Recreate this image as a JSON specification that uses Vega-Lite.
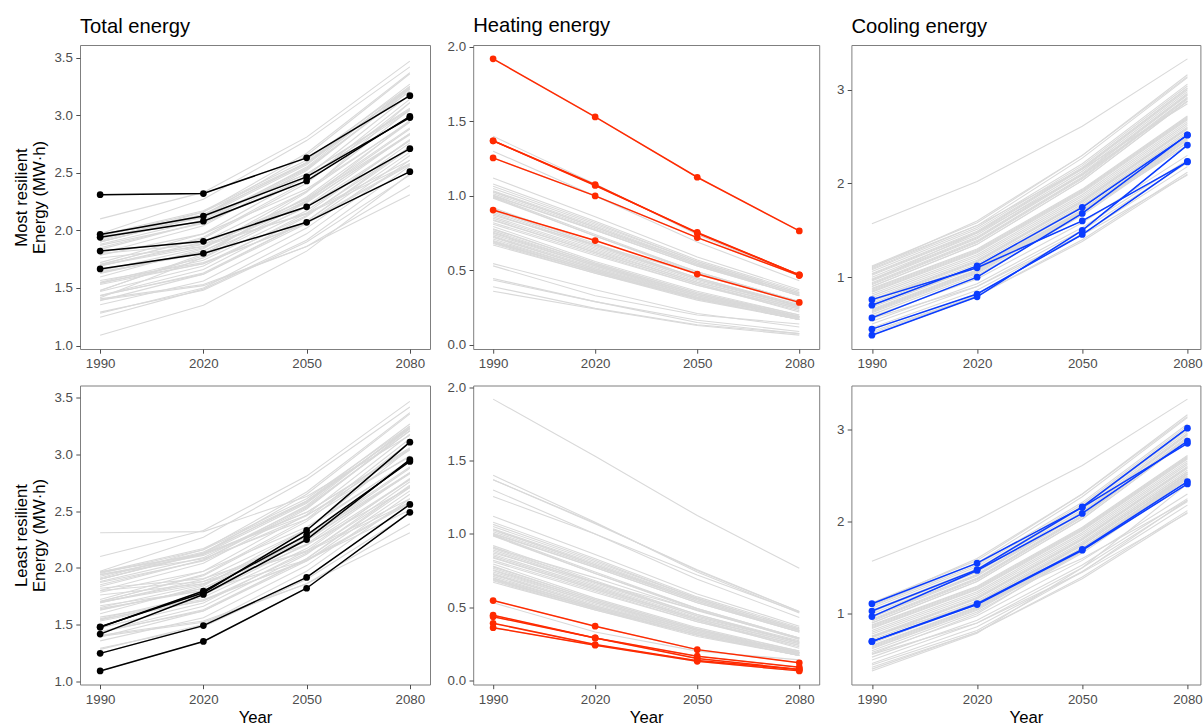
{
"$schema": "https://vega.github.io/schema/vega-lite/v6.json",
"padding": {"left": 13, "top": 15, "right": 0, "bottom": 0},
"config": {
  "font": "Liberation Sans",
  "view": {"stroke": "#7f7f7f", "strokeWidth": 1},
  "axis": {"grid": false, "domain": false, "tickColor": "#4d4d4d", "tickSize": 4.2, "tickWidth": 1, "labelColor": "#4d4d4d", "labelFontSize": 13.3, "labelPadding": 3.4, "titleFontSize": 16.7, "titleFontWeight": "normal", "titleColor": "#000000", "titleLineHeight": 18},
  "axisY": {"titlePadding": 5},
  "axisX": {"titlePadding": 4, "labelFlush": false},
  "title": {"fontSize": 20.2, "fontWeight": "normal", "anchor": "start", "frame": "group", "offset": 8, "baseline": "bottom", "color": "#000000"}
},
"datasets": {"d": [
{"id":"A","g":"most","year":1990,"total":2.31,"heat":1.92,"cool":0.38},
{"id":"A","g":"most","year":2020,"total":2.32,"heat":1.53,"cool":0.79},
{"id":"A","g":"most","year":2050,"total":2.63,"heat":1.125,"cool":1.50},
{"id":"A","g":"most","year":2080,"total":3.17,"heat":0.765,"cool":2.41},
{"id":"B","g":"most","year":1990,"total":1.94,"heat":1.37,"cool":0.565},
{"id":"B","g":"most","year":2020,"total":2.08,"heat":1.075,"cool":1.00},
{"id":"B","g":"most","year":2050,"total":2.43,"heat":0.75,"cool":1.68},
{"id":"B","g":"most","year":2080,"total":2.99,"heat":0.47,"cool":2.52},
{"id":"C","g":"most","year":1990,"total":1.965,"heat":1.255,"cool":0.70},
{"id":"C","g":"most","year":2020,"total":2.125,"heat":1.00,"cool":1.12},
{"id":"C","g":"most","year":2050,"total":2.465,"heat":0.72,"cool":1.745},
{"id":"C","g":"most","year":2080,"total":2.98,"heat":0.465,"cool":2.515},
{"id":"D","g":"most","year":1990,"total":1.665,"heat":0.905,"cool":0.76},
{"id":"D","g":"most","year":2020,"total":1.80,"heat":0.70,"cool":1.10},
{"id":"D","g":"most","year":2050,"total":2.07,"heat":0.475,"cool":1.60},
{"id":"D","g":"most","year":2080,"total":2.51,"heat":0.285,"cool":2.23},
{"id":"E","g":"most","year":1990,"total":1.82,"heat":1.37,"cool":0.445},
{"id":"E","g":"most","year":2020,"total":1.905,"heat":1.07,"cool":0.82},
{"id":"E","g":"most","year":2050,"total":2.205,"heat":0.755,"cool":1.455},
{"id":"E","g":"most","year":2080,"total":2.71,"heat":0.47,"cool":2.235},
{"id":"F","g":"least","year":1990,"total":1.09,"heat":0.39,"cool":0.70},
{"id":"F","g":"least","year":2020,"total":1.35,"heat":0.245,"cool":1.10},
{"id":"F","g":"least","year":2050,"total":1.82,"heat":0.135,"cool":1.69},
{"id":"F","g":"least","year":2080,"total":2.49,"heat":0.075,"cool":2.41},
{"id":"G","g":"least","year":1990,"total":1.245,"heat":0.545,"cool":0.70},
{"id":"G","g":"least","year":2020,"total":1.49,"heat":0.37,"cool":1.11},
{"id":"G","g":"least","year":2050,"total":1.915,"heat":0.21,"cool":1.70},
{"id":"G","g":"least","year":2080,"total":2.56,"heat":0.12,"cool":2.435},
{"id":"H","g":"least","year":1990,"total":1.415,"heat":0.435,"cool":0.97},
{"id":"H","g":"least","year":2020,"total":1.765,"heat":0.29,"cool":1.47},
{"id":"H","g":"least","year":2050,"total":2.25,"heat":0.15,"cool":2.09},
{"id":"H","g":"least","year":2080,"total":2.955,"heat":0.075,"cool":2.875},
{"id":"I","g":"least","year":1990,"total":1.48,"heat":0.445,"cool":1.03},
{"id":"I","g":"least","year":2020,"total":1.78,"heat":0.29,"cool":1.48},
{"id":"I","g":"least","year":2050,"total":2.33,"heat":0.165,"cool":2.16},
{"id":"I","g":"least","year":2080,"total":3.11,"heat":0.09,"cool":3.015},
{"id":"J","g":"least","year":1990,"total":1.475,"heat":0.36,"cool":1.11},
{"id":"J","g":"least","year":2020,"total":1.795,"heat":0.24,"cool":1.55},
{"id":"J","g":"least","year":2050,"total":2.29,"heat":0.13,"cool":2.155},
{"id":"J","g":"least","year":2080,"total":2.94,"heat":0.065,"cool":2.85},
{"id":"K","g":"other","year":1990,"total":2.10,"heat":0.53,"cool":1.57},
{"id":"K","g":"other","year":2020,"total":2.33,"heat":0.33,"cool":2.02},
{"id":"K","g":"other","year":2050,"total":2.81,"heat":0.20,"cool":2.61},
{"id":"K","g":"other","year":2080,"total":3.47,"heat":0.14,"cool":3.33},
{"id":"L","g":"other","year":1990,"total":1.97,"heat":0.87,"cool":1.10},
{"id":"L","g":"other","year":2020,"total":2.27,"heat":0.67,"cool":1.60},
{"id":"L","g":"other","year":2050,"total":2.78,"heat":0.48,"cool":2.30},
{"id":"L","g":"other","year":2080,"total":3.42,"heat":0.28,"cool":3.14},
{"id":"o1","g":"other","year":1990,"total":1.80,"heat":1.40,"cool":0.40},
{"id":"o1","g":"other","year":2020,"total":1.88,"heat":1.08,"cool":0.80},
{"id":"o1","g":"other","year":2050,"total":2.14,"heat":0.74,"cool":1.40},
{"id":"o1","g":"other","year":2080,"total":2.58,"heat":0.46,"cool":2.12},
{"id":"o2","g":"other","year":1990,"total":1.76,"heat":1.30,"cool":0.46},
{"id":"o2","g":"other","year":2020,"total":1.86,"heat":1.00,"cool":0.86},
{"id":"o2","g":"other","year":2050,"total":2.15,"heat":0.69,"cool":1.46},
{"id":"o2","g":"other","year":2080,"total":2.61,"heat":0.43,"cool":2.18},
{"id":"o3","g":"other","year":1990,"total":1.96,"heat":1.12,"cool":0.84},
{"id":"o3","g":"other","year":2020,"total":2.12,"heat":0.86,"cool":1.26},
{"id":"o3","g":"other","year":2050,"total":2.49,"heat":0.59,"cool":1.90},
{"id":"o3","g":"other","year":2080,"total":3.05,"heat":0.37,"cool":2.68},
{"id":"o4","g":"other","year":1990,"total":1.94,"heat":1.08,"cool":0.86},
{"id":"o4","g":"other","year":2020,"total":2.11,"heat":0.83,"cool":1.28},
{"id":"o4","g":"other","year":2050,"total":2.49,"heat":0.57,"cool":1.92},
{"id":"o4","g":"other","year":2080,"total":3.06,"heat":0.36,"cool":2.70},
{"id":"o5","g":"other","year":1990,"total":1.565,"heat":1.065,"cool":0.50},
{"id":"o5","g":"other","year":2020,"total":1.72,"heat":0.82,"cool":0.90},
{"id":"o5","g":"other","year":2050,"total":2.06,"heat":0.56,"cool":1.50},
{"id":"o5","g":"other","year":2080,"total":2.57,"heat":0.35,"cool":2.22},
{"id":"o6","g":"other","year":1990,"total":1.95,"heat":1.05,"cool":0.90},
{"id":"o6","g":"other","year":2020,"total":2.16,"heat":0.81,"cool":1.35},
{"id":"o6","g":"other","year":2050,"total":2.59,"heat":0.56,"cool":2.03},
{"id":"o6","g":"other","year":2080,"total":3.23,"heat":0.35,"cool":2.88},
{"id":"o7","g":"other","year":1990,"total":1.695,"heat":1.035,"cool":0.66},
{"id":"o7","g":"other","year":2020,"total":1.88,"heat":0.80,"cool":1.08},
{"id":"o7","g":"other","year":2050,"total":2.27,"heat":0.55,"cool":1.72},
{"id":"o7","g":"other","year":2080,"total":2.84,"heat":0.34,"cool":2.50},
{"id":"o8","g":"other","year":1990,"total":1.785,"heat":1.025,"cool":0.76},
{"id":"o8","g":"other","year":2020,"total":1.97,"heat":0.79,"cool":1.18},
{"id":"o8","g":"other","year":2050,"total":2.36,"heat":0.54,"cool":1.82},
{"id":"o8","g":"other","year":2080,"total":2.94,"heat":0.34,"cool":2.60},
{"id":"o9","g":"other","year":1990,"total":1.545,"heat":1.015,"cool":0.53},
{"id":"o9","g":"other","year":2020,"total":1.71,"heat":0.78,"cool":0.93},
{"id":"o9","g":"other","year":2050,"total":2.07,"heat":0.54,"cool":1.53},
{"id":"o9","g":"other","year":2080,"total":2.58,"heat":0.33,"cool":2.25},
{"id":"o10","g":"other","year":1990,"total":1.925,"heat":1.005,"cool":0.92},
{"id":"o10","g":"other","year":2020,"total":2.14,"heat":0.77,"cool":1.37},
{"id":"o10","g":"other","year":2050,"total":2.58,"heat":0.53,"cool":2.05},
{"id":"o10","g":"other","year":2080,"total":3.23,"heat":0.33,"cool":2.90},
{"id":"o11","g":"other","year":1990,"total":1.695,"heat":0.995,"cool":0.70},
{"id":"o11","g":"other","year":2020,"total":1.86,"heat":0.74,"cool":1.12},
{"id":"o11","g":"other","year":2050,"total":2.25,"heat":0.49,"cool":1.76},
{"id":"o11","g":"other","year":2080,"total":2.83,"heat":0.29,"cool":2.54},
{"id":"o12","g":"other","year":1990,"total":1.405,"heat":0.985,"cool":0.42},
{"id":"o12","g":"other","year":2020,"total":1.53,"heat":0.73,"cool":0.80},
{"id":"o12","g":"other","year":2050,"total":1.86,"heat":0.48,"cool":1.38},
{"id":"o12","g":"other","year":2080,"total":2.39,"heat":0.29,"cool":2.10},
{"id":"o13","g":"other","year":1990,"total":1.88,"heat":0.92,"cool":0.96},
{"id":"o13","g":"other","year":2020,"total":2.09,"heat":0.68,"cool":1.41},
{"id":"o13","g":"other","year":2050,"total":2.54,"heat":0.45,"cool":2.09},
{"id":"o13","g":"other","year":2080,"total":3.21,"heat":0.27,"cool":2.94},
{"id":"o14","g":"other","year":1990,"total":1.53,"heat":0.91,"cool":0.62},
{"id":"o14","g":"other","year":2020,"total":1.71,"heat":0.67,"cool":1.04},
{"id":"o14","g":"other","year":2050,"total":2.13,"heat":0.45,"cool":1.68},
{"id":"o14","g":"other","year":2080,"total":2.72,"heat":0.26,"cool":2.46},
{"id":"o15","g":"other","year":1990,"total":1.90,"heat":0.90,"cool":1.00},
{"id":"o15","g":"other","year":2020,"total":2.12,"heat":0.67,"cool":1.45},
{"id":"o15","g":"other","year":2050,"total":2.57,"heat":0.44,"cool":2.13},
{"id":"o15","g":"other","year":2080,"total":3.24,"heat":0.26,"cool":2.98},
{"id":"o16","g":"other","year":1990,"total":1.63,"heat":0.89,"cool":0.74},
{"id":"o16","g":"other","year":2020,"total":1.82,"heat":0.66,"cool":1.16},
{"id":"o16","g":"other","year":2050,"total":2.24,"heat":0.44,"cool":1.80},
{"id":"o16","g":"other","year":2080,"total":2.84,"heat":0.26,"cool":2.58},
{"id":"o17","g":"other","year":1990,"total":1.90,"heat":0.86,"cool":1.04},
{"id":"o17","g":"other","year":2020,"total":2.13,"heat":0.64,"cool":1.49},
{"id":"o17","g":"other","year":2050,"total":2.59,"heat":0.42,"cool":2.17},
{"id":"o17","g":"other","year":2080,"total":3.27,"heat":0.25,"cool":3.02},
{"id":"o18","g":"other","year":1990,"total":1.65,"heat":0.85,"cool":0.80},
{"id":"o18","g":"other","year":2020,"total":1.85,"heat":0.63,"cool":1.22},
{"id":"o18","g":"other","year":2050,"total":2.28,"heat":0.42,"cool":1.86},
{"id":"o18","g":"other","year":2080,"total":2.89,"heat":0.25,"cool":2.64},
{"id":"o19","g":"other","year":1990,"total":1.395,"heat":0.835,"cool":0.56},
{"id":"o19","g":"other","year":2020,"total":1.52,"heat":0.62,"cool":0.90},
{"id":"o19","g":"other","year":2050,"total":1.86,"heat":0.41,"cool":1.45},
{"id":"o19","g":"other","year":2080,"total":2.31,"heat":0.22,"cool":2.09},
{"id":"o20","g":"other","year":1990,"total":1.91,"heat":0.82,"cool":1.09},
{"id":"o20","g":"other","year":2020,"total":2.16,"heat":0.61,"cool":1.55},
{"id":"o20","g":"other","year":2050,"total":2.67,"heat":0.40,"cool":2.27},
{"id":"o20","g":"other","year":2080,"total":3.37,"heat":0.24,"cool":3.13},
{"id":"o21","g":"other","year":1990,"total":1.69,"heat":0.81,"cool":0.88},
{"id":"o21","g":"other","year":2020,"total":1.90,"heat":0.60,"cool":1.30},
{"id":"o21","g":"other","year":2050,"total":2.34,"heat":0.40,"cool":1.94},
{"id":"o21","g":"other","year":2080,"total":2.95,"heat":0.23,"cool":2.72},
{"id":"o22","g":"other","year":1990,"total":1.435,"heat":0.795,"cool":0.64},
{"id":"o22","g":"other","year":2020,"total":1.62,"heat":0.56,"cool":1.06},
{"id":"o22","g":"other","year":2050,"total":2.06,"heat":0.36,"cool":1.70},
{"id":"o22","g":"other","year":2080,"total":2.68,"heat":0.20,"cool":2.48},
{"id":"o23","g":"other","year":1990,"total":1.90,"heat":0.78,"cool":1.12},
{"id":"o23","g":"other","year":2020,"total":2.13,"heat":0.55,"cool":1.58},
{"id":"o23","g":"other","year":2050,"total":2.65,"heat":0.35,"cool":2.30},
{"id":"o23","g":"other","year":2080,"total":3.36,"heat":0.20,"cool":3.16},
{"id":"o24","g":"other","year":1990,"total":1.705,"heat":0.765,"cool":0.94},
{"id":"o24","g":"other","year":2020,"total":1.93,"heat":0.54,"cool":1.39},
{"id":"o24","g":"other","year":2050,"total":2.41,"heat":0.34,"cool":2.07},
{"id":"o24","g":"other","year":2080,"total":3.11,"heat":0.19,"cool":2.92},
{"id":"o25","g":"other","year":1990,"total":1.43,"heat":0.75,"cool":0.68},
{"id":"o25","g":"other","year":2020,"total":1.63,"heat":0.53,"cool":1.10},
{"id":"o25","g":"other","year":2050,"total":2.08,"heat":0.34,"cool":1.74},
{"id":"o25","g":"other","year":2080,"total":2.71,"heat":0.19,"cool":2.52},
{"id":"o26","g":"other","year":1990,"total":1.80,"heat":0.74,"cool":1.06},
{"id":"o26","g":"other","year":2020,"total":2.04,"heat":0.53,"cool":1.51},
{"id":"o26","g":"other","year":2050,"total":2.52,"heat":0.33,"cool":2.19},
{"id":"o26","g":"other","year":2080,"total":3.23,"heat":0.19,"cool":3.04},
{"id":"o27","g":"other","year":1990,"total":1.55,"heat":0.73,"cool":0.82},
{"id":"o27","g":"other","year":2020,"total":1.76,"heat":0.52,"cool":1.24},
{"id":"o27","g":"other","year":2050,"total":2.21,"heat":0.33,"cool":1.88},
{"id":"o27","g":"other","year":2080,"total":2.84,"heat":0.18,"cool":2.66},
{"id":"o28","g":"other","year":1990,"total":1.70,"heat":0.72,"cool":0.98},
{"id":"o28","g":"other","year":2020,"total":1.94,"heat":0.51,"cool":1.43},
{"id":"o28","g":"other","year":2050,"total":2.43,"heat":0.32,"cool":2.11},
{"id":"o28","g":"other","year":2080,"total":3.14,"heat":0.18,"cool":2.96},
{"id":"o29","g":"other","year":1990,"total":1.29,"heat":0.71,"cool":0.58},
{"id":"o29","g":"other","year":2020,"total":1.48,"heat":0.50,"cool":0.98},
{"id":"o29","g":"other","year":2050,"total":1.90,"heat":0.32,"cool":1.58},
{"id":"o29","g":"other","year":2080,"total":2.48,"heat":0.18,"cool":2.30},
{"id":"o30","g":"other","year":1990,"total":1.72,"heat":0.70,"cool":1.02},
{"id":"o30","g":"other","year":2020,"total":1.97,"heat":0.50,"cool":1.47},
{"id":"o30","g":"other","year":2050,"total":2.47,"heat":0.32,"cool":2.15},
{"id":"o30","g":"other","year":2080,"total":3.18,"heat":0.18,"cool":3.00},
{"id":"o31","g":"other","year":1990,"total":1.47,"heat":0.69,"cool":0.78},
{"id":"o31","g":"other","year":2020,"total":1.69,"heat":0.49,"cool":1.20},
{"id":"o31","g":"other","year":2050,"total":2.15,"heat":0.31,"cool":1.84},
{"id":"o31","g":"other","year":2080,"total":2.79,"heat":0.17,"cool":2.62},
{"id":"o32","g":"other","year":1990,"total":1.28,"heat":0.68,"cool":0.60},
{"id":"o32","g":"other","year":2020,"total":1.50,"heat":0.48,"cool":1.02},
{"id":"o32","g":"other","year":2050,"total":1.97,"heat":0.31,"cool":1.66},
{"id":"o32","g":"other","year":2080,"total":2.61,"heat":0.17,"cool":2.44},
{"id":"o33","g":"other","year":1990,"total":1.39,"heat":0.67,"cool":0.72},
{"id":"o33","g":"other","year":2020,"total":1.62,"heat":0.48,"cool":1.14},
{"id":"o33","g":"other","year":2050,"total":2.08,"heat":0.30,"cool":1.78},
{"id":"o33","g":"other","year":2080,"total":2.73,"heat":0.17,"cool":2.56},
{"id":"o34","g":"other","year":1990,"total":1.87,"heat":1.00,"cool":0.87},
{"id":"o34","g":"other","year":2020,"total":2.06,"heat":0.77,"cool":1.29},
{"id":"o34","g":"other","year":2050,"total":2.46,"heat":0.53,"cool":1.93},
{"id":"o34","g":"other","year":2080,"total":3.04,"heat":0.33,"cool":2.71},
{"id":"o35","g":"other","year":1990,"total":1.64,"heat":0.99,"cool":0.65},
{"id":"o35","g":"other","year":2020,"total":1.80,"heat":0.73,"cool":1.07},
{"id":"o35","g":"other","year":2050,"total":2.20,"heat":0.49,"cool":1.71},
{"id":"o35","g":"other","year":2080,"total":2.78,"heat":0.29,"cool":2.49},
{"id":"o36","g":"other","year":1990,"total":1.85,"heat":0.88,"cool":0.97},
{"id":"o36","g":"other","year":2020,"total":2.07,"heat":0.65,"cool":1.42},
{"id":"o36","g":"other","year":2050,"total":2.53,"heat":0.43,"cool":2.10},
{"id":"o36","g":"other","year":2080,"total":3.21,"heat":0.26,"cool":2.95},
{"id":"o37","g":"other","year":1990,"total":1.54,"heat":0.84,"cool":0.70},
{"id":"o37","g":"other","year":2020,"total":1.74,"heat":0.62,"cool":1.12},
{"id":"o37","g":"other","year":2050,"total":2.17,"heat":0.41,"cool":1.76},
{"id":"o37","g":"other","year":2080,"total":2.78,"heat":0.24,"cool":2.54},
{"id":"o38","g":"other","year":1990,"total":1.625,"heat":0.775,"cool":0.85},
{"id":"o38","g":"other","year":2020,"total":1.82,"heat":0.55,"cool":1.27},
{"id":"o38","g":"other","year":2050,"total":2.26,"heat":0.35,"cool":1.91},
{"id":"o38","g":"other","year":2080,"total":2.88,"heat":0.19,"cool":2.69},
{"id":"o39","g":"other","year":1990,"total":1.835,"heat":0.755,"cool":1.08},
{"id":"o39","g":"other","year":2020,"total":2.07,"heat":0.54,"cool":1.53},
{"id":"o39","g":"other","year":2050,"total":2.55,"heat":0.34,"cool":2.21},
{"id":"o39","g":"other","year":2080,"total":3.25,"heat":0.19,"cool":3.06},
{"id":"o40","g":"other","year":1990,"total":1.355,"heat":0.725,"cool":0.63},
{"id":"o40","g":"other","year":2020,"total":1.56,"heat":0.51,"cool":1.05},
{"id":"o40","g":"other","year":2050,"total":2.02,"heat":0.33,"cool":1.69},
{"id":"o40","g":"other","year":2080,"total":2.65,"heat":0.18,"cool":2.47},
{"id":"o41","g":"other","year":1990,"total":1.595,"heat":0.695,"cool":0.90},
{"id":"o41","g":"other","year":2020,"total":1.84,"heat":0.49,"cool":1.35},
{"id":"o41","g":"other","year":2050,"total":2.34,"heat":0.31,"cool":2.03},
{"id":"o41","g":"other","year":2080,"total":3.05,"heat":0.17,"cool":2.88},
{"id":"o42","g":"other","year":1990,"total":1.435,"heat":0.685,"cool":0.75},
{"id":"o42","g":"other","year":2020,"total":1.66,"heat":0.49,"cool":1.17},
{"id":"o42","g":"other","year":2050,"total":2.12,"heat":0.31,"cool":1.81},
{"id":"o42","g":"other","year":2080,"total":2.76,"heat":0.17,"cool":2.59},
{"id":"o43","g":"other","year":1990,"total":1.96,"heat":1.03,"cool":0.93},
{"id":"o43","g":"other","year":2020,"total":2.17,"heat":0.79,"cool":1.38},
{"id":"o43","g":"other","year":2050,"total":2.61,"heat":0.55,"cool":2.06},
{"id":"o43","g":"other","year":2080,"total":3.25,"heat":0.34,"cool":2.91}
]},
"spacing": 8.5,
"vconcat": [
 {"hconcat": [
  {"width": 350, "height": 304, "title": {"text": "Total energy"}, "data": {"name": "d"},
   "encoding": {
    "x": {"field": "year", "type": "quantitative", "scale": {"domain": [1984.15, 2085.85], "nice": false, "zero": false}, "axis": {"values": [1990, 2020, 2050, 2080], "format": "d", "title": null}},
    "y": {"field": "total", "type": "quantitative", "scale": {"domain": [0.97, 3.61], "nice": false, "zero": false}, "axis": {"values": [1, 1.5, 2, 2.5, 3, 3.5], "format": ".1f", "title": ["Most resilient", "Energy (MW·h)"]}}},
   "layer": [
    {"mark": {"type": "line", "color": "#d9d9d9", "strokeWidth": 1.1}, "encoding": {"detail": {"field": "id", "type": "nominal"}}},
    {"transform": [{"filter": "datum.g === 'most'"}], "mark": {"type": "line", "color": "#000000", "strokeWidth": 1.5}, "encoding": {"detail": {"field": "id", "type": "nominal"}}},
    {"transform": [{"filter": "datum.g === 'most'"}], "mark": {"type": "circle", "color": "#000000", "size": 45, "opacity": 1}}
   ]},
  {"width": 346, "height": 304, "title": {"text": "Heating energy", "offset": 3.3}, "data": {"name": "d"},
   "encoding": {
    "x": {"field": "year", "type": "quantitative", "scale": {"domain": [1984.15, 2085.85], "nice": false, "zero": false}, "axis": {"values": [1990, 2020, 2050, 2080], "format": "d", "title": null}},
    "y": {"field": "heat", "type": "quantitative", "scale": {"domain": [-0.028, 2.013], "nice": false, "zero": false}, "axis": {"values": [0, 0.5, 1, 1.5, 2], "format": ".1f", "title": null}}},
   "layer": [
    {"mark": {"type": "line", "color": "#d9d9d9", "strokeWidth": 1.1}, "encoding": {"detail": {"field": "id", "type": "nominal"}}},
    {"transform": [{"filter": "datum.g === 'most'"}], "mark": {"type": "line", "color": "#ff2a00", "strokeWidth": 1.5}, "encoding": {"detail": {"field": "id", "type": "nominal"}}},
    {"transform": [{"filter": "datum.g === 'most'"}], "mark": {"type": "circle", "color": "#ff2a00", "size": 45, "opacity": 1}}
   ]},
  {"width": 349, "height": 304, "title": {"text": "Cooling energy"}, "data": {"name": "d"},
   "encoding": {
    "x": {"field": "year", "type": "quantitative", "scale": {"domain": [1984.15, 2083.7], "nice": false, "zero": false}, "axis": {"values": [1990, 2020, 2050, 2080], "format": "d", "title": null}},
    "y": {"field": "cool", "type": "quantitative", "scale": {"domain": [0.233, 3.478], "nice": false, "zero": false}, "axis": {"values": [1, 2, 3], "format": "d", "title": null}}},
   "layer": [
    {"mark": {"type": "line", "color": "#d9d9d9", "strokeWidth": 1.1}, "encoding": {"detail": {"field": "id", "type": "nominal"}}},
    {"transform": [{"filter": "datum.g === 'most'"}], "mark": {"type": "line", "color": "#0a3cff", "strokeWidth": 1.5}, "encoding": {"detail": {"field": "id", "type": "nominal"}}},
    {"transform": [{"filter": "datum.g === 'most'"}], "mark": {"type": "circle", "color": "#0a3cff", "size": 45, "opacity": 1}}
   ]}
 ], "spacing": 15.2},
 {"hconcat": [
  {"width": 350, "height": 299, "data": {"name": "d"},
   "encoding": {
    "x": {"field": "year", "type": "quantitative", "scale": {"domain": [1984.15, 2085.85], "nice": false, "zero": false}, "axis": {"values": [1990, 2020, 2050, 2080], "format": "d", "title": "Year"}},
    "y": {"field": "total", "type": "quantitative", "scale": {"domain": [0.97, 3.61], "nice": false, "zero": false}, "axis": {"values": [1, 1.5, 2, 2.5, 3, 3.5], "format": ".1f", "title": ["Least resilient", "Energy (MW·h)"]}}},
   "layer": [
    {"mark": {"type": "line", "color": "#d9d9d9", "strokeWidth": 1.1}, "encoding": {"detail": {"field": "id", "type": "nominal"}}},
    {"transform": [{"filter": "datum.g === 'least'"}], "mark": {"type": "line", "color": "#000000", "strokeWidth": 1.5}, "encoding": {"detail": {"field": "id", "type": "nominal"}}},
    {"transform": [{"filter": "datum.g === 'least'"}], "mark": {"type": "circle", "color": "#000000", "size": 45, "opacity": 1}}
   ]},
  {"width": 346, "height": 299, "data": {"name": "d"},
   "encoding": {
    "x": {"field": "year", "type": "quantitative", "scale": {"domain": [1984.15, 2085.85], "nice": false, "zero": false}, "axis": {"values": [1990, 2020, 2050, 2080], "format": "d", "title": "Year"}},
    "y": {"field": "heat", "type": "quantitative", "scale": {"domain": [-0.028, 2.013], "nice": false, "zero": false}, "axis": {"values": [0, 0.5, 1, 1.5, 2], "format": ".1f", "title": null}}},
   "layer": [
    {"mark": {"type": "line", "color": "#d9d9d9", "strokeWidth": 1.1}, "encoding": {"detail": {"field": "id", "type": "nominal"}}},
    {"transform": [{"filter": "datum.g === 'least'"}], "mark": {"type": "line", "color": "#ff2a00", "strokeWidth": 1.5}, "encoding": {"detail": {"field": "id", "type": "nominal"}}},
    {"transform": [{"filter": "datum.g === 'least'"}], "mark": {"type": "circle", "color": "#ff2a00", "size": 45, "opacity": 1}}
   ]},
  {"width": 349, "height": 299, "data": {"name": "d"},
   "encoding": {
    "x": {"field": "year", "type": "quantitative", "scale": {"domain": [1984.15, 2083.7], "nice": false, "zero": false}, "axis": {"values": [1990, 2020, 2050, 2080], "format": "d", "title": "Year"}},
    "y": {"field": "cool", "type": "quantitative", "scale": {"domain": [0.233, 3.478], "nice": false, "zero": false}, "axis": {"values": [1, 2, 3], "format": "d", "title": null}}},
   "layer": [
    {"mark": {"type": "line", "color": "#d9d9d9", "strokeWidth": 1.1}, "encoding": {"detail": {"field": "id", "type": "nominal"}}},
    {"transform": [{"filter": "datum.g === 'least'"}], "mark": {"type": "line", "color": "#0a3cff", "strokeWidth": 1.5}, "encoding": {"detail": {"field": "id", "type": "nominal"}}},
    {"transform": [{"filter": "datum.g === 'least'"}], "mark": {"type": "circle", "color": "#0a3cff", "size": 45, "opacity": 1}}
   ]}
 ], "spacing": 15.2}
]
}
